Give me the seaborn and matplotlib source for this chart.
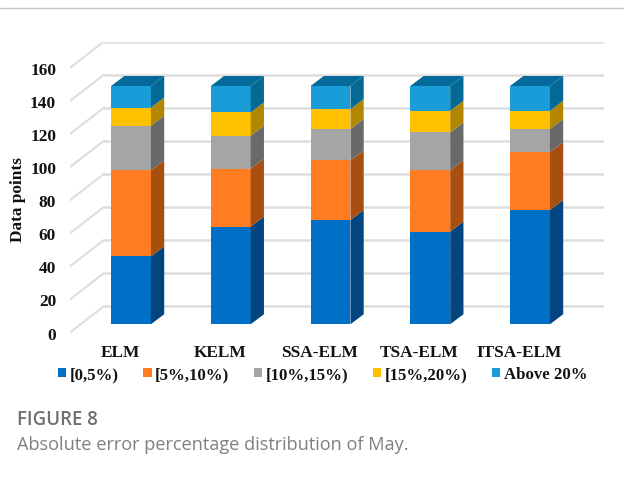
import numpy as np
import matplotlib
matplotlib.use("Agg")
import matplotlib.pyplot as plt
from matplotlib.lines import Line2D
from matplotlib.patches import Patch, Polygon
import seaborn as sns

# Counts of test points per error band for each model
models = ["ELM", "KELM", "SSA-ELM", "TSA-ELM", "ITSA-ELM"]
band_labels = ["[0,5%)", "[5%,10%)", "[10%,15%)", "[15%,20%)", "Above 20%"]
band_0_5 = [41, 59, 63, 56, 69]
band_5_10 = [52, 35, 36, 37, 35]
band_10_15 = [27, 20, 19, 23, 14]
band_15_20 = [11, 14, 12, 13, 11]
band_above_20 = [13, 16, 14, 15, 15]
y_ticks = [0, 20, 40, 60, 80, 100, 120, 140, 160]

front_colors = ["#0070C6", "#FF7C20", "#A5A5A5", "#FFC000", "#1A9CD9"]
side_colors = ["#03457F", "#A84F10", "#696969", "#B38600", "#046A95"]
top_color = "#046A9A"
grid_color = "#DEDEDE"
serif = "Liberation Serif"
text_size = 12.4

W, H = 624, 481
sns.set_theme(style="white")
fig = plt.figure(figsize=(W / 100, H / 100), dpi=100)
# Axes span the whole pseudo-3D box, from the front floor edge to the back wall
ax = fig.add_axes([70 / W, (H - 333.5) / H, 534 / W, 291 / H])

BAR_WIDTH = 0.4
# Depth offsets, in data units, of the bar depth, the back wall and the front floor edge
BAR_DX, BAR_DY = 0.133, 6.04
WALL_DX, WALL_DY = 0.23, 10.87
FRONT_DX, FRONT_DY = -0.11, -5.0
x_low, x_high = -0.6115, 4.742

# Back wall gridlines and the slanted floor lines leading to them
for v in y_ticks:
    ax.add_line(Line2D([x_low - FRONT_DX + WALL_DX, x_high], [v + WALL_DY] * 2,
                       color=grid_color, lw=1.8, zorder=0.5))
    ax.add_line(Line2D([x_low, x_low - FRONT_DX + WALL_DX],
                       [v + FRONT_DY, v + WALL_DY],
                       color=grid_color, lw=1.5, zorder=0.5))

bands = [band_0_5, band_5_10, band_10_15, band_15_20, band_above_20]
bottom = np.zeros(len(models))
for values, front, side in zip(bands, front_colors, side_colors):
    values = np.array(values, dtype=float)
    sns.barplot(x=models, y=values, bottom=bottom, color=front, saturation=1,
                width=BAR_WIDTH, linewidth=0, ax=ax, zorder=2)
    top = bottom + values
    # Right-hand side face of each segment
    for i in range(len(models)):
        xr = i + BAR_WIDTH / 2
        ax.add_patch(Polygon([(xr, bottom[i]), (xr + BAR_DX, bottom[i] + BAR_DY),
                              (xr + BAR_DX, top[i] + BAR_DY), (xr, top[i])],
                             closed=True, facecolor=side, edgecolor="none", zorder=2))
    bottom = top

# Top face of each column
for i, total in enumerate(bottom):
    xl, xr = i - BAR_WIDTH / 2, i + BAR_WIDTH / 2
    ax.add_patch(Polygon([(xl, total), (xr, total), (xr + BAR_DX, total + BAR_DY),
                          (xl + BAR_DX, total + BAR_DY)],
                         closed=True, facecolor=top_color, edgecolor="none", zorder=2))

ax.set_xlim(x_low, x_high)
ax.set_ylim(FRONT_DY, 170.9)
ax.set_xticks(np.arange(len(models)) + FRONT_DX)
ax.set_xticklabels(models, fontfamily=serif, fontweight="bold", fontsize=text_size, color="#111111")
ax.set_yticks(np.array(y_ticks) + FRONT_DY)
ax.set_yticklabels(y_ticks, fontfamily=serif, fontweight="bold", fontsize=text_size, color="#111111")
ax.tick_params(axis="x", length=0, pad=8)
ax.tick_params(axis="y", length=0, pad=10)
ax.set_xlabel("")
ax.set_ylabel("")
sns.despine(ax=ax, left=True, bottom=True)
ax.patch.set_alpha(0)

fig.text(17.5 / W, 1 - 199.5 / H, "Data points", rotation=90, ha="center", va="center",
         fontfamily=serif, fontweight="bold", fontsize=text_size, color="#111111")

handles = [Patch(facecolor=c, edgecolor="none", label=l)
           for c, l in zip(front_colors, band_labels)]
fig.legend(handles=handles, ncol=5, frameon=False, loc="center left",
           bbox_to_anchor=(58 / W, 1 - 375.5 / H), handlelength=0.5, handleheight=0.5,
           handletextpad=0.2, columnspacing=1.46, borderpad=0, borderaxespad=0,
           prop={"family": serif, "weight": "bold", "size": 12.1}, labelcolor="#111111")

# Page furniture around the chart
fig.add_artist(Line2D([0, 1], [1 - 8.5 / H] * 2, color="#C8C8C8", lw=1.0))
fig.text(17 / W, 1 - 420.5 / H, "FIGURE 8", ha="left", va="center",
         fontfamily="Open Sans", fontweight="semibold", fontsize=13.4, color="#707070")
fig.text(17 / W, 1 - 445 / H, "Absolute error percentage distribution of May.", ha="left", va="center",
         fontfamily="Open Sans", fontsize=13.1, color="#7F7F7F")

fig.savefig("out.png", dpi=100)
